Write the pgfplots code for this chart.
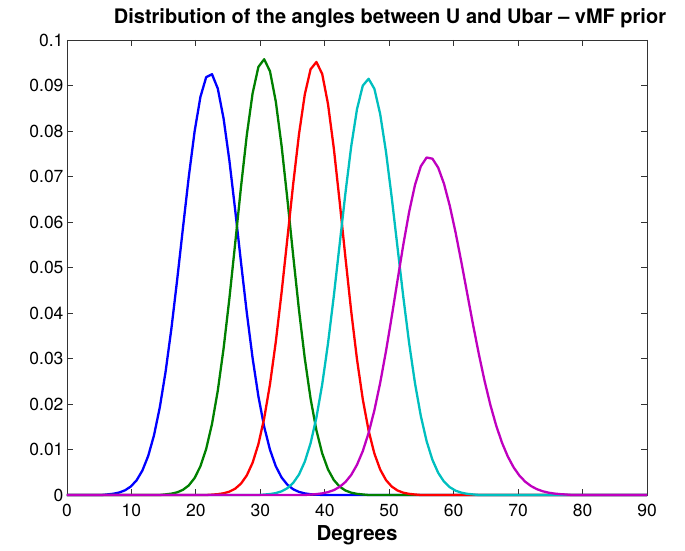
\documentclass[border=0pt]{standalone}
\usepackage{fontspec}
\setmainfont{TeX Gyre Heros}
\usepackage{pgfplots}
\pgfplotsset{compat=1.18}

\definecolor{cBlue}{rgb}{0,0,1}
\definecolor{cGreen}{rgb}{0,0.5,0}
\definecolor{cRed}{rgb}{1,0,0}
\definecolor{cCyan}{rgb}{0,0.75,0.75}
\definecolor{cMagenta}{rgb}{0.75,0,0.75}

\begin{document}
\begin{tikzpicture}[x=1pt,y=1pt]
\path[use as bounding box] (-67,-56) rectangle (618,495);
\begin{axis}[
  at={(0,0)}, anchor=south west,
  scale only axis, width=580pt, height=455pt,
  xmin=0, xmax=90, ymin=0, ymax=0.1,
  clip=false,
  xtick={0,10,20,30,40,50,60,70,80,90},
  xticklabels={0,10,20,30,40,50,60,70,80,90},
  ytick={0,0.01,0.02,0.03,0.04,0.05,0.06,0.07,0.08,0.09,0.1},
  yticklabels={0,0.01,0.02,0.03,0.04,0.05,0.06,0.07,0.08,0.09,0.1},
  tick align=inside,
  major tick length=6pt,
  axis line style={black!80, line width=0.8pt},
  tick style={black!80, line width=0.8pt},
  ticklabel style={font=\fontsize{17.5}{20}\selectfont},
  xticklabel style={anchor=base, yshift=-21pt},
  every axis title/.style={at={(0.5,1)}, anchor=base, yshift=16pt, xshift=33pt,
    font=\bfseries\fontsize{20}{24}\selectfont},
  title={Distribution of the angles between U and Ubar -- vMF prior},
  every axis x label/.style={at={(0.5,0)}, anchor=base, yshift=-45pt,
    font=\bfseries\fontsize{20.5}{24}\selectfont},
  xlabel={Degrees},
  every axis plot/.append style={line width=2.3pt, line join=round, no markers},
]
% angle density for each prior setting, sampled every 0.9 degrees
\addplot[cBlue] coordinates {
(0,0) (5.4,0) (6.3,0.000135) (7.2,0.000278) (8.1,0.000546) (9.0,0.00103)
(9.9,0.00186) (10.8,0.00323) (11.7,0.00538) (12.6,0.00858) (13.5,0.01312)
(14.4,0.01926) (15.3,0.02711) (16.2,0.03658) (17.1,0.04736) (18.0,0.05878)
(18.9,0.06997) (19.8,0.07989) (20.7,0.08747) (21.6,0.09184) (22.5,0.09248)
(23.4,0.08932) (24.3,0.08272) (25.2,0.07348) (26.1,0.06259) (27.0,0.05113)
(27.9,0.04006) (28.8,0.03010) (29.7,0.02168) (30.6,0.01498) (31.5,0.00993)
(32.4,0.00631) (33.3,0.00385) (34.2,0.00225) (35.1,0.00126) (36.0,0.00068)
(36.9,0.00035) (37.8,0.00017) (38.7,0.00008) (39.6,0) (90,0)
};
\addplot[cGreen] coordinates {
(0,0) (14.4,0) (15.3,0.000137) (16.2,0.000291) (17.1,0.00059) (18.0,0.00114)
(18.9,0.00211) (19.8,0.00373) (20.7,0.00630) (21.6,0.01015) (22.5,0.01561)
(23.4,0.02295) (24.3,0.03222) (25.2,0.04321) (26.1,0.05534) (27.0,0.06770)
(27.9,0.07910) (28.8,0.08827) (29.7,0.09408) (30.6,0.09577) (31.5,0.09312)
(32.4,0.08648) (33.3,0.07671) (34.2,0.06499) (35.1,0.05259) (36.0,0.04064)
(36.9,0.03000) (37.8,0.02115) (38.7,0.01424) (39.6,0.00916) (40.5,0.00563)
(41.4,0.00330) (42.3,0.00185) (43.2,0.00099) (44.1,0.00051) (45.0,0.00025)
(45.9,0.00012) (46.8,0) (90,0)
};
\addplot[cRed] coordinates {
(0,0) (21.6,0) (22.5,0.000086) (23.4,0.000184) (24.3,0.000378) (25.2,0.000741)
(26.1,0.00139) (27.0,0.00250) (27.9,0.00431) (28.8,0.00709) (29.7,0.01118)
(30.6,0.01687) (31.5,0.02436) (32.4,0.03367) (33.3,0.04454) (34.2,0.05640)
(35.1,0.06836) (36.0,0.07930) (36.9,0.08804) (37.8,0.09357) (38.7,0.09517)
(39.6,0.09254) (40.5,0.08594) (41.4,0.07623) (42.3,0.06458) (43.2,0.05226)
(44.1,0.04039) (45.0,0.02981) (45.9,0.02102) (46.8,0.01416) (47.7,0.00910)
(48.6,0.00559) (49.5,0.00328) (50.4,0.00184) (51.3,0.00098) (52.2,0.00050)
(53.1,0.00025) (54.0,0.00011) (54.9,0) (90,0)
};
\addplot[cCyan] coordinates {
(0,0) (29.7,0) (30.6,0.000100) (31.5,0.000210) (32.4,0.000422) (33.3,0.000813)
(34.2,0.00150) (35.1,0.00266) (36.0,0.00450) (36.9,0.00732) (37.8,0.01139)
(38.7,0.01700) (39.6,0.02430) (40.5,0.03329) (41.4,0.04371) (42.3,0.05499)
(43.2,0.06630) (44.1,0.07660) (45.0,0.08480) (45.9,0.08997) (46.8,0.09148)
(47.7,0.08927) (48.6,0.08370) (49.5,0.07540) (50.4,0.06526) (51.3,0.05426)
(52.2,0.04336) (53.1,0.03328) (54.0,0.02455) (54.9,0.01739) (55.8,0.01184)
(56.7,0.00774) (57.6,0.00487) (58.5,0.00294) (59.4,0.00171) (60.3,0.00095)
(61.2,0.00051) (62.1,0.00026) (63.0,0.00013) (63.9,0) (90,0)
};
\addplot[cMagenta] coordinates {
(0,0) (36.9,0) (37.8,0.00010) (38.7,0.00020) (39.6,0.00036) (40.5,0.00063)
(41.4,0.00107) (42.3,0.00178) (43.2,0.00285) (44.1,0.00441) (45.0,0.00664)
(45.9,0.00966) (46.8,0.01363) (47.7,0.01863) (48.6,0.02466) (49.5,0.03163)
(50.4,0.03930) (51.3,0.04729) (52.2,0.05514) (53.1,0.06228) (54.0,0.06815)
(54.9,0.07223) (55.8,0.07417) (56.7,0.07392) (57.6,0.07194) (58.5,0.06840)
(59.4,0.06354) (60.3,0.05767) (61.2,0.05114) (62.1,0.04430) (63.0,0.03750)
(63.9,0.03101) (64.8,0.02505) (65.7,0.01978) (66.6,0.01525) (67.5,0.01149)
(68.4,0.00846) (69.3,0.00608) (70.2,0.00427) (71.1,0.00293) (72.0,0.00197)
(72.9,0.00129) (73.8,0.00083) (74.7,0.00052) (75.6,0.00032) (76.5,0.00019)
(77.4,0.00011) (78.3,0) (90,0)
};
\end{axis}
\end{tikzpicture}
\end{document}
